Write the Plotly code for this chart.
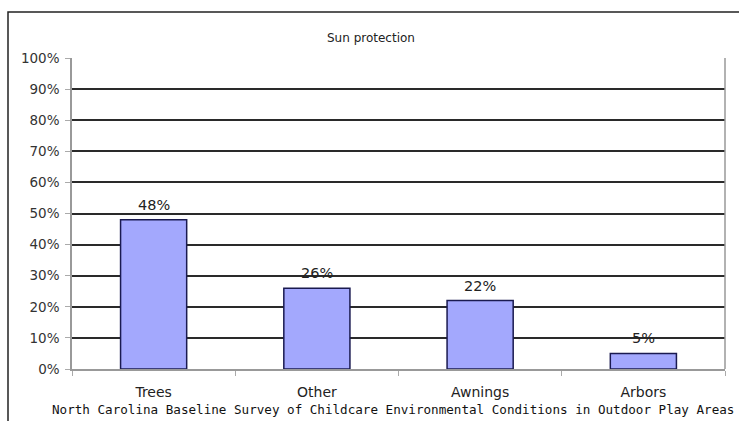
import plotly.graph_objects as go

categories = ["Trees", "Other", "Awnings", "Arbors"]
values = [48, 26, 22, 5]
tick_vals = [0, 10, 20, 30, 40, 50, 60, 70, 80, 90, 100]
tick_text = [f"{v}%" for v in tick_vals]
title_text = "Sun protection"
caption_text = "North Carolina Baseline Survey of Childcare Environmental Conditions in Outdoor Play Areas"

W, H = 739, 421
L, R, T, B = 72, 14, 58, 52
pw, ph = W - L - R, H - T - B

def px_x(X):
    return (X - L) / pw

def px_y(Y):
    return (H - B - Y) / ph

fig = go.Figure()
fig.add_trace(go.Bar(
    x=categories, y=values,
    width=0.405,
    marker=dict(color="#a3a8fd", line=dict(color="#1a1a50", width=1.5)),
))

annotations = [
    dict(x=c, y=v, xref="x", yref="y", text=f"{v}%", showarrow=False,
         yanchor="bottom", yshift=5,
         font=dict(family="DejaVu Sans", size=14.5, color="#222"))
    for c, v in zip(categories, values)
]
annotations += [
    dict(text=title_text, xref="paper", yref="paper",
         x=px_x(371), y=px_y(38), showarrow=False,
         xanchor="center", yanchor="middle",
         font=dict(family="DejaVu Sans", size=12, color="#222")),
    dict(text=caption_text, xref="paper", yref="paper",
         x=px_x(393), y=px_y(409), showarrow=False,
         xanchor="center", yanchor="middle",
         font=dict(family="DejaVu Sans Mono", size=12.6, color="#111")),
]

fig.update_layout(
    width=W, height=H,
    margin=dict(l=L, r=R, t=T, b=B),
    paper_bgcolor="white", plot_bgcolor="white",
    showlegend=False,
    xaxis=dict(
        showgrid=False, showline=True, linecolor="#999", linewidth=1.5,
        ticks="outside", tickson="boundaries", ticklen=5, tickcolor="#aaa",
        tickfont=dict(family="DejaVu Sans", size=14, color="#222"),
        ticklabelstandoff=9,
    ),
    yaxis=dict(
        range=[0, 100], tickvals=tick_vals, ticktext=tick_text,
        showgrid=True, gridcolor="#2a2a2a", gridwidth=1.5,
        showline=True, linecolor="#999", linewidth=1.5,
        ticks="outside", ticklen=5, tickcolor="#aaa",
        tickfont=dict(family="DejaVu Sans", size=13.5, color="#333"),
        ticklabelstandoff=3,
        zeroline=False,
    ),
    shapes=[
        dict(type="rect", xref="paper", yref="paper",
             x0=px_x(8), x1=px_x(745), y0=px_y(430), y1=px_y(12),
             line=dict(color="#222", width=1.5), layer="below"),
        dict(type="line", xref="paper", yref="paper",
             x0=1, x1=1, y0=0, y1=1, line=dict(color="#999", width=1.5)),
    ],
    annotations=annotations,
)

fig.write_html("out.html")
